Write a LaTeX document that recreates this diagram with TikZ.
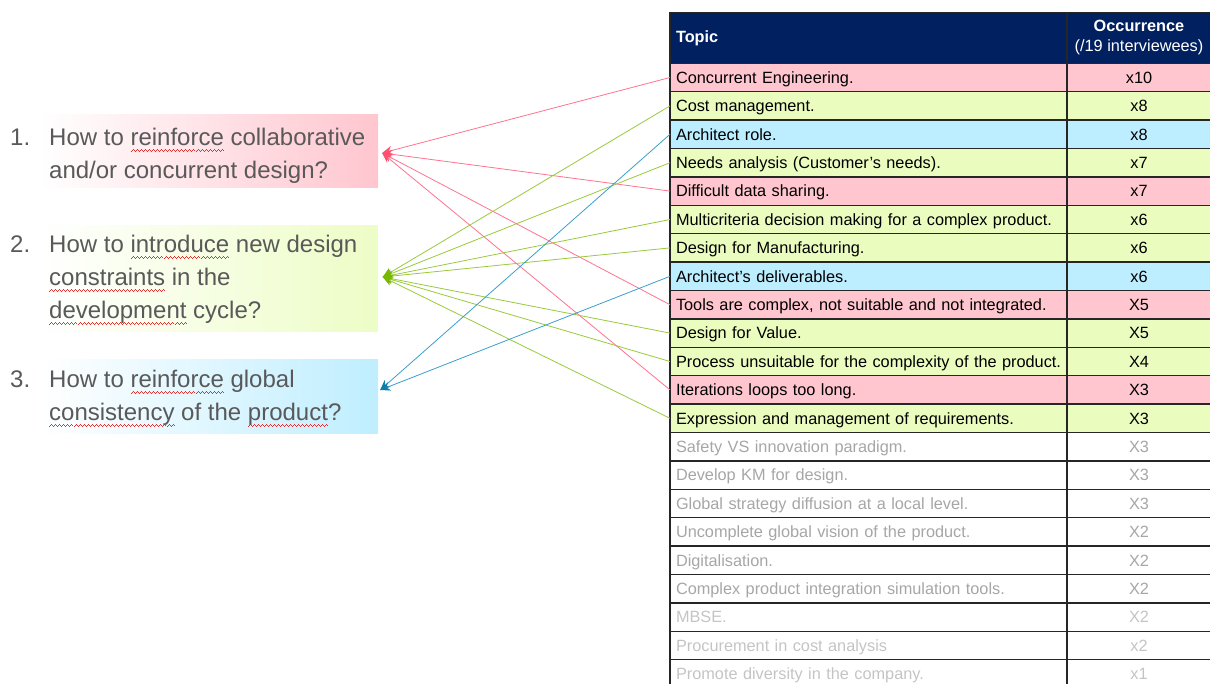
\documentclass[tikz,border=0pt]{standalone}
\usepackage{fontspec}
\setmainfont{Liberation Sans}
\usetikzlibrary{positioning,arrows.meta}

\definecolor{hdrblue}{HTML}{002060}
\definecolor{gridc}{HTML}{262626}
\definecolor{rowpink}{HTML}{FFC6CF}
\definecolor{rowgreen}{HTML}{EBFCBF}
\definecolor{rowblue}{HTML}{BDEEFF}
\definecolor{greytxt}{HTML}{A6A6A6}
\definecolor{paletxt}{HTML}{C4C4C4}
\definecolor{qtxt}{HTML}{595959}
\definecolor{qpink}{HTML}{FFC6CF}
\definecolor{qgreen}{HTML}{EDFDC6}
\definecolor{qblue}{HTML}{BFEEFF}
\definecolor{linepink}{HTML}{FF7390}
\definecolor{linegreen}{HTML}{98CA3A}
\definecolor{lineblue}{HTML}{3A9ECC}
\definecolor{tippink}{HTML}{FF5070}
\definecolor{tipgreen}{HTML}{78B800}
\definecolor{tipblue}{HTML}{0E7FA6}
\definecolor{spellred}{HTML}{E03030}

% red wavy spell-check line under a word
\newcommand\wavebit{\hbox{{\color{spellred}\rule[-6pt]{1pt}{0.9pt}\rule[-5.2pt]{1pt}{0.9pt}\rule[-4.4pt]{1pt}{0.9pt}\rule[-5.2pt]{1pt}{0.9pt}}}}
\newcommand\spell[1]{\setbox0\hbox{#1}\rlap{\hbox to\wd0{\xleaders\wavebit\hfill}}#1}

\begin{document}
\begin{tikzpicture}[x=1pt, y=-1pt,
  cellbase/.style={draw=gridc, line width=1.3pt, outer sep=0pt, inner sep=0pt, font=\fontsize{16.3}{20}\selectfont},
  cell/.style={cellbase, minimum height=28.4pt, text height=13pt, text depth=1.5pt},
  tcell/.style={cell, text width=385pt, inner xsep=6pt, align=left},
  ocell/.style={cell, minimum width=144pt, align=center},
  hdr/.style={cellbase, fill=hdrblue, text=white, minimum height=51pt},
  pinkrow/.style={fill=rowpink},
  greenrow/.style={fill=rowgreen},
  bluerow/.style={fill=rowblue},
  greyrow/.style={text=greytxt},
  palerow/.style={text=paletxt},
  qbox/.style={minimum width=338pt, inner sep=0pt, left color=white},
  qtext/.style={inner sep=0pt, text=qtxt, font=\fontsize{24}{33}\selectfont},
  pinkline/.style={draw=linepink, line width=0.8pt, arrows={Stealth[length=10pt, width=9pt, color=tippink]-}},
  greenline/.style={draw=linegreen, line width=0.8pt, arrows={Stealth[length=10pt, width=9pt, color=tipgreen]-}},
  blueline/.style={draw=lineblue, line width=0.8pt, arrows={Stealth[length=10pt, width=9pt, color=tipblue]-}}]

\useasboundingbox (0,0) rectangle (1210,684);

% questions
\node[qbox, right color=qpink, minimum height=73pt] (q1) at (209,151.5) {};
\node[qbox, right color=qgreen, minimum height=106pt] (q2) at (208.5,279) {};
\node[qbox, right color=qblue, minimum height=73pt] (q3) at (209,396.5) {};

\node[qtext, anchor=base west] (t1) at (10,146) {\begin{tabular}[t]{@{}p{39pt}@{}l@{}}1.&How to \spell{reinforce} collaborative\\&and/or concurrent design?\end{tabular}};
\node[qtext, anchor=base west] (t2) at (10,253) {\begin{tabular}[t]{@{}p{39pt}@{}l@{}}2.&How to \spell{introduce} new design\\&\spell{constraints} in the\\&\spell{development} cycle?\end{tabular}};
\node[qtext, anchor=base west] (t3) at (10,388) {\begin{tabular}[t]{@{}p{39pt}@{}l@{}}3.&How to \spell{reinforce} global\\&\spell{consistency} of the \spell{product}?\end{tabular}};

% table
\node[hdr, text width=385pt, inner xsep=6pt, align=left, anchor=north west] (hTopic) at (670,12.3) {\textbf{Topic}};
\node[hdr, minimum width=144pt, align=center, right=0pt of hTopic] (hOcc) {\textbf{Occurrence}\\(/19 interviewees)};

\node[tcell, pinkrow, below=0pt of hTopic] (r1) {Concurrent Engineering.};
\node[ocell, pinkrow, right=0pt of r1] (c1) {x10};
\node[tcell, greenrow, below=0pt of r1] (r2) {Cost management.};
\node[ocell, greenrow, right=0pt of r2] (c2) {x8};
\node[tcell, bluerow, below=0pt of r2] (r3) {Architect role.};
\node[ocell, bluerow, right=0pt of r3] (c3) {x8};
\node[tcell, greenrow, below=0pt of r3] (r4) {Needs analysis (Customer’s needs).};
\node[ocell, greenrow, right=0pt of r4] (c4) {x7};
\node[tcell, pinkrow, below=0pt of r4] (r5) {Difficult data sharing.};
\node[ocell, pinkrow, right=0pt of r5] (c5) {x7};
\node[tcell, greenrow, below=0pt of r5] (r6) {Multicriteria decision making for a complex product.};
\node[ocell, greenrow, right=0pt of r6] (c6) {x6};
\node[tcell, greenrow, below=0pt of r6] (r7) {Design for Manufacturing.};
\node[ocell, greenrow, right=0pt of r7] (c7) {x6};
\node[tcell, bluerow, below=0pt of r7] (r8) {Architect’s deliverables.};
\node[ocell, bluerow, right=0pt of r8] (c8) {x6};
\node[tcell, pinkrow, below=0pt of r8] (r9) {Tools are complex, not suitable and not integrated.};
\node[ocell, pinkrow, right=0pt of r9] (c9) {X5};
\node[tcell, greenrow, below=0pt of r9] (r10) {Design for Value.};
\node[ocell, greenrow, right=0pt of r10] (c10) {X5};
\node[tcell, greenrow, below=0pt of r10] (r11) {\mbox{Process unsuitable for the complexity of the product.}};
\node[ocell, greenrow, right=0pt of r11] (c11) {X4};
\node[tcell, pinkrow, below=0pt of r11] (r12) {Iterations loops too long.};
\node[ocell, pinkrow, right=0pt of r12] (c12) {X3};
\node[tcell, greenrow, below=0pt of r12] (r13) {Expression and management of requirements.};
\node[ocell, greenrow, right=0pt of r13] (c13) {X3};
\node[tcell, greyrow, below=0pt of r13] (r14) {Safety VS innovation paradigm.};
\node[ocell, greyrow, right=0pt of r14] (c14) {X3};
\node[tcell, greyrow, below=0pt of r14] (r15) {Develop KM for design.};
\node[ocell, greyrow, right=0pt of r15] (c15) {X3};
\node[tcell, greyrow, below=0pt of r15] (r16) {Global strategy diffusion at a local level.};
\node[ocell, greyrow, right=0pt of r16] (c16) {X3};
\node[tcell, greyrow, below=0pt of r16] (r17) {Uncomplete global vision of the product.};
\node[ocell, greyrow, right=0pt of r17] (c17) {X2};
\node[tcell, greyrow, below=0pt of r17] (r18) {Digitalisation.};
\node[ocell, greyrow, right=0pt of r18] (c18) {X2};
\node[tcell, greyrow, below=0pt of r18] (r19) {Complex product integration simulation tools.};
\node[ocell, greyrow, right=0pt of r19] (c19) {X2};
\node[tcell, palerow, below=0pt of r19] (r20) {MBSE.};
\node[ocell, palerow, right=0pt of r20] (c20) {X2};
\node[tcell, palerow, below=0pt of r20] (r21) {Procurement in cost analysis};
\node[ocell, palerow, right=0pt of r21] (c21) {x2};
\node[tcell, palerow, below=0pt of r21] (r22) {Promote diversity in the company.};
\node[ocell, palerow, right=0pt of r22] (c22) {x1};

% links
\draw[pinkline] ([xshift=4pt,yshift=-1.5pt]q1.east) -- (r1.west);
\draw[pinkline] ([xshift=4pt,yshift=-1.5pt]q1.east) -- (r5.west);
\draw[pinkline] ([xshift=4pt,yshift=-1.5pt]q1.east) -- (r9.west);
\draw[pinkline] ([xshift=4pt,yshift=-1.5pt]q1.east) -- (r12.west);
\draw[greenline] ([xshift=5pt,yshift=2pt]q2.east) -- (r2.west);
\draw[greenline] ([xshift=5pt,yshift=2pt]q2.east) -- (r4.west);
\draw[greenline] ([xshift=5pt,yshift=2pt]q2.east) -- (r6.west);
\draw[greenline] ([xshift=5pt,yshift=2pt]q2.east) -- (r7.west);
\draw[greenline] ([xshift=5pt,yshift=2pt]q2.east) -- (r10.west);
\draw[greenline] ([xshift=5pt,yshift=2pt]q2.east) -- (r11.west);
\draw[greenline] ([xshift=5pt,yshift=2pt]q2.east) -- (r13.west);
\draw[blueline] ([xshift=2pt,yshift=6.5pt]q3.east) -- (r3.west);
\draw[blueline] ([xshift=2pt,yshift=6.5pt]q3.east) -- (r8.west);
\end{tikzpicture}
\end{document}
